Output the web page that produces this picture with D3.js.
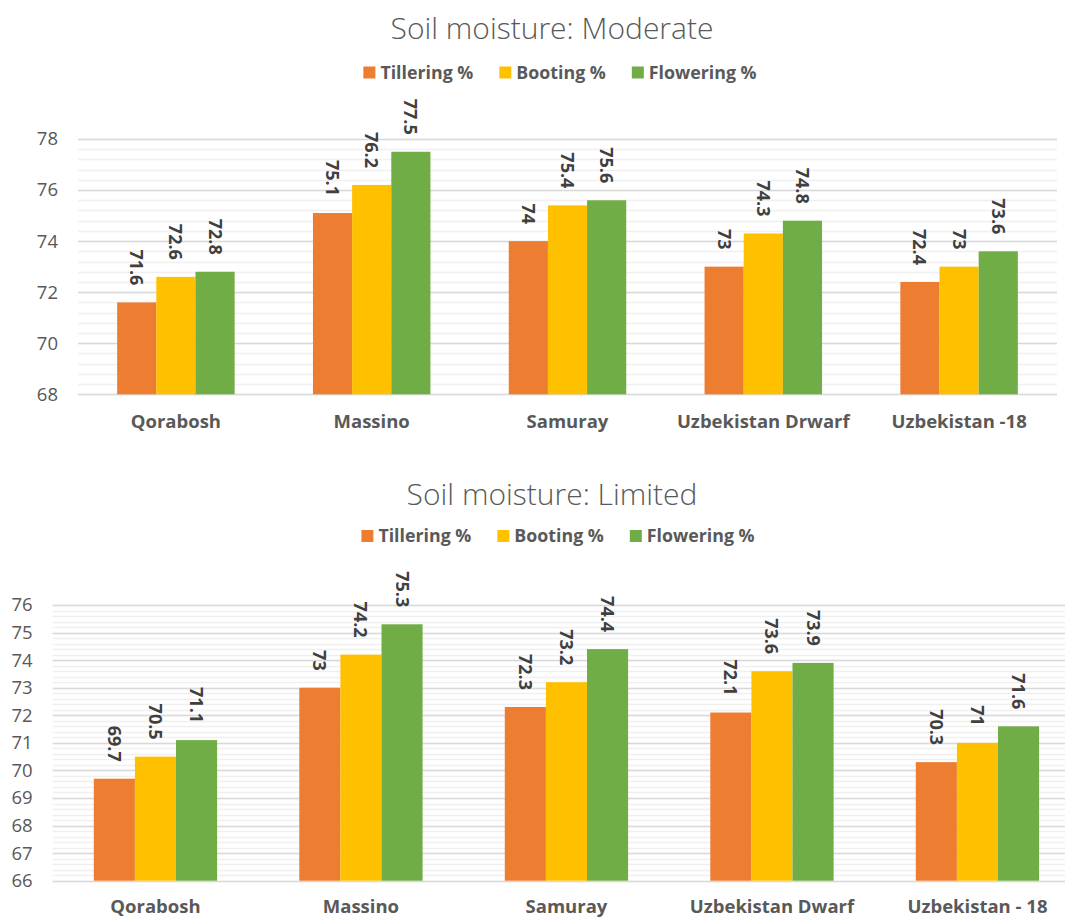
<!DOCTYPE html>
<html>
<head>
<meta charset="utf-8">
<script src="https://cdn.jsdelivr.net/npm/d3@7"></script>
<style>
  body { margin: 0; background: #fff; }
  svg { display: block; font-family: "Open Sans", "Liberation Sans", sans-serif; }
</style>
</head>
<body>
<div id="wrapper"></div>
<script>
// data
const categoriesModerate = ["Qorabosh", "Massino", "Samuray", "Uzbekistan Drwarf", "Uzbekistan -18"];
const categoriesLimited = ["Qorabosh", "Massino", "Samuray", "Uzbekistan Dwarf", "Uzbekistan - 18"];
const seriesNames = ["Tillering %", "Booting %", "Flowering %"];
const seriesColors = ["#ED7D31", "#FFC000", "#70AD47"];

const moderateTillering = [71.6, 75.1, 74, 73, 72.4];
const moderateBooting = [72.6, 76.2, 75.4, 74.3, 73];
const moderateFlowering = [72.8, 77.5, 75.6, 74.8, 73.6];

const limitedTillering = [69.7, 73, 72.3, 72.1, 70.3];
const limitedBooting = [70.5, 74.2, 73.2, 73.6, 71];
const limitedFlowering = [71.1, 75.3, 74.4, 73.9, 71.6];

const moderateTicks = [68, 70, 72, 74, 76, 78];
const limitedTicks = [66, 67, 68, 69, 70, 71, 72, 73, 74, 75, 76];

let wSvg = 1065;
let hSvg = 917;

let svg = d3.select("#wrapper")
    .append("svg")
    .attr("width", wSvg)
    .attr("height", hSvg);

function drawChart(opts) {
    let g = svg.append("g");

    let yScale = d3.scaleLinear()
        .domain([opts.ticks[0], opts.ticks[opts.ticks.length - 1]])
        .range([opts.bottom, opts.top]);

    let xScale = d3.scaleBand()
        .domain(opts.categories)
        .range([opts.left, opts.right])
        .paddingInner(0.4)
        .paddingOuter(0.2);

    let xSeries = d3.scaleBand()
        .domain(seriesNames)
        .range([0, xScale.bandwidth()]);

    // minor gridlines
    let minor = d3.range(yScale.domain()[0], yScale.domain()[1] + 1e-9, opts.minorStep);
    g.append("g")
        .selectAll("line")
        .data(minor)
        .enter()
        .append("line")
        .attr("x1", opts.left)
        .attr("x2", opts.right)
        .attr("y1", d => Math.round(yScale(d)) + 0.5)
        .attr("y2", d => Math.round(yScale(d)) + 0.5)
        .attr("stroke", "#f0f0f0")
        .attr("stroke-width", 1.5);

    // major gridlines
    g.append("g")
        .selectAll("line")
        .data(opts.ticks)
        .enter()
        .append("line")
        .attr("x1", opts.left)
        .attr("x2", opts.right)
        .attr("y1", d => Math.round(yScale(d)) + 0.5)
        .attr("y2", d => Math.round(yScale(d)) + 0.5)
        .attr("stroke", "#d9d9d9")
        .attr("stroke-width", 1.5);

    // y axis labels
    let yAxis = d3.axisLeft(yScale)
        .tickValues(opts.ticks)
        .tickSize(0)
        .tickPadding(20);
    let yAxisG = g.append("g")
        .attr("transform", `translate(${opts.left},0)`)
        .call(yAxis);
    yAxisG.select(".domain").remove();
    yAxisG.selectAll("text")
        .attr("fill", "#595959")
        .style("font-size", "18.5px")
        .style("font-family", "'Open Sans', sans-serif");

    // bars
    let groups = g.append("g")
        .selectAll("g")
        .data(opts.categories)
        .enter()
        .append("g")
        .attr("transform", d => `translate(${xScale(d)},0)`);

    groups.each(function (cat, i) {
        let grp = d3.select(this);
        seriesNames.forEach((s, j) => {
            let v = opts.series[j][i];
            grp.append("rect")
                .attr("x", xSeries(s))
                .attr("width", xSeries.bandwidth())
                .attr("y", yScale(v))
                .attr("height", yScale(yScale.domain()[0]) - yScale(v))
                .attr("fill", seriesColors[j]);

            let cx = xSeries(s) + xSeries.bandwidth() / 2;
            let ty = yScale(v) - 17;
            grp.append("text")
                .attr("transform", `translate(${cx},${ty}) rotate(90)`)
                .attr("text-anchor", "end")
                .attr("dy", "0.36em")
                .attr("fill", "#404040")
                .style("font-size", "18px")
                .style("font-weight", "bold")
                .text(v);
        });
    });

    // category labels
    g.append("g")
        .selectAll("text")
        .data(opts.categories)
        .enter()
        .append("text")
        .attr("x", d => xScale(d) + xScale.bandwidth() / 2)
        .attr("y", opts.catY)
        .attr("text-anchor", "middle")
        .attr("fill", "#595959")
        .style("font-size", "18.5px")
        .style("font-weight", "bold")
        .text(d => d);

    // title
    g.append("text")
        .attr("x", opts.titleX)
        .attr("y", opts.titleY)
        .attr("text-anchor", "middle")
        .attr("fill", "#595959")
        .style("font-size", "30px")
        .style("font-weight", 300)
        .text(opts.title);

    // legend
    let legend = g.append("g");
    let items = legend.selectAll("g")
        .data(seriesNames)
        .enter()
        .append("g");
    items.append("rect")
        .attr("width", 12)
        .attr("height", 12)
        .attr("y", -6)
        .attr("fill", (d, i) => seriesColors[i]);
    items.append("text")
        .attr("x", 17)
        .attr("dy", "0.36em")
        .attr("fill", "#595959")
        .style("font-size", "17.8px")
        .style("font-weight", "bold")
        .text(d => d);

    let offset = 0;
    let widths = [];
    items.each(function () {
        widths.push(17 + d3.select(this).select("text").node().getComputedTextLength());
    });
    let total = d3.sum(widths) + 26 * (widths.length - 1);
    let start = opts.legendX - total / 2;
    items.attr("transform", (d, i) => {
        let x = start + offset;
        offset += widths[i] + 26;
        return `translate(${x},${opts.legendY})`;
    });
}

drawChart({
    title: "Soil moisture: Moderate",
    categories: categoriesModerate,
    series: [moderateTillering, moderateBooting, moderateFlowering],
    ticks: moderateTicks,
    minorStep: 0.4,
    left: 78,
    right: 1057,
    top: 139,
    bottom: 394.3,
    catY: 428,
    titleX: 552,
    titleY: 39,
    legendX: 560,
    legendY: 72.5
});

drawChart({
    title: "Soil moisture: Limited",
    categories: categoriesLimited,
    series: [limitedTillering, limitedBooting, limitedFlowering],
    ticks: limitedTicks,
    minorStep: 0.2,
    left: 52.7,
    right: 1080.2,
    top: 605,
    bottom: 880.7,
    catY: 913,
    titleX: 552,
    titleY: 505,
    legendX: 558,
    legendY: 536
});
</script>
</body>
</html>
